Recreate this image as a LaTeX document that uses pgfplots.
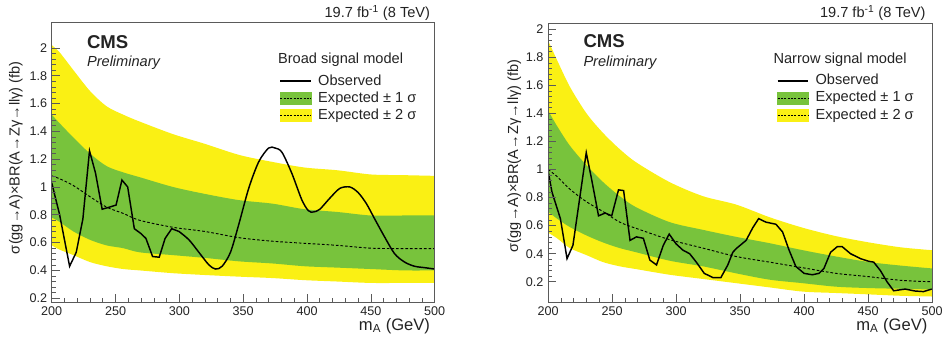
\documentclass[border=0pt]{standalone}
\usepackage{fontspec}
\setmainfont{Liberation Sans}
\usepackage{pgfplots}
\usepackage{pgfplotstable}
\pgfplotsset{compat=1.18}
\usepgfplotslibrary{fillbetween}

\definecolor{cmsyellow}{RGB}{250,240,20}
\definecolor{cmsgreen}{RGB}{120,195,60}
\definecolor{axgray}{RGB}{90,90,90}
\definecolor{txt}{RGB}{35,35,35}

\pgfplotstableread{
m   y2hi  y1hi  exp   y1lo  y2lo
200 2.02  1.52  1.08  0.78  0.58
206 1.97  1.46  1.06  0.75  0.55
217 1.84  1.355 1.01  0.68  0.51
230 1.69  1.24  0.93  0.62  0.46
243 1.58  1.15  0.855 0.58  0.43
256 1.52  1.105 0.81  0.56  0.41
269 1.47  1.07  0.76  0.53  0.40
295 1.38  1.00  0.71  0.51  0.38
320 1.31  0.95  0.68  0.49  0.367
347 1.23  0.905 0.635 0.465 0.355
373 1.18  0.88  0.61  0.45  0.345
398 1.14  0.84  0.595 0.43  0.33
424 1.12  0.82  0.58  0.42  0.32
450 1.09  0.795 0.56  0.41  0.31
476 1.085 0.795 0.557 0.40  0.31
500 1.08  0.795 0.557 0.40  0.31
}\broadband

\pgfplotstableread{
m   y2hi  y1hi  exp   y1lo  y2lo
200 1.92  1.42  1.00  0.70  0.55
207 1.78  1.31  0.95  0.65  0.51
217 1.59  1.17  0.86  0.59  0.44
230 1.40  1.03  0.77  0.53  0.39
243 1.26  0.91  0.70  0.48  0.34
256 1.145 0.81  0.625 0.44  0.31
269 1.05  0.73  0.58  0.41  0.29
295 0.91  0.625 0.50  0.35  0.25
321 0.81  0.57  0.44  0.31  0.22
347 0.75  0.52  0.38  0.26  0.19
373 0.66  0.475 0.34  0.215 0.16
399 0.585 0.425 0.30  0.19  0.13
425 0.525 0.38  0.26  0.165 0.12
451 0.48  0.34  0.236 0.155 0.11
476 0.445 0.315 0.21  0.15  0.10
500 0.425 0.295 0.20  0.145 0.095
}\narrowband

\pgfplotsset{cmsaxis/.style={
  scale only axis,
  xmin=200, xmax=500,
  xtick={200,250,300,350,400,450,500},
  minor x tick num=4,
  ytick={0.2,0.4,0.6,0.8,1,1.2,1.4,1.6,1.8,2},
  minor y tick num=4,
  tick align=inside,
  xtick pos=bottom, ytick pos=left,
  major tick length=6pt, minor tick length=3pt,
  axis line style={axgray, line width=0.6pt},
  every tick/.style={axgray, line width=0.5pt},
  tick label style={font=\fontsize{9.5}{11}\selectfont, text=txt},
  /pgf/number format/assume math mode=true,
  clip mode=individual,
  axis on top,
  legend cell align=left,
  every axis x label/.style={at={(axis description cs:1,-0.085)}, anchor=east, font=\fontsize{12.5}{14}\selectfont, text=txt},
  xlabel={m\textsubscript{A} (GeV)},
  ylabel={σ(gg→A)×BR(A→Zγ→llγ) (fb)},
}}

\pgfplotsset{
  obsleg/.style={legend image code/.code={\draw[black,line width=1.1pt] (0pt,0pt)--(23pt,0pt);}},
  greenleg/.style={legend image code/.code={\fill[cmsgreen] (0pt,-4.5pt) rectangle (23pt,4.5pt); \draw[black,dash pattern=on 1.5pt off 1pt,line width=0.6pt] (0pt,0pt)--(23pt,0pt);}},
  yellowleg/.style={legend image code/.code={\fill[cmsyellow] (0pt,-4.5pt) rectangle (23pt,4.5pt); \draw[black,dash pattern=on 1.5pt off 1pt,line width=0.6pt] (0pt,0pt)--(23pt,0pt);}},
}

\begin{document}
\begin{tikzpicture}
\path (0pt,0pt) rectangle (710.25pt,258pt);

% ---------------- left: broad ----------------
\begin{axis}[cmsaxis, at={(39pt,30pt)}, anchor=south west,
  width=288.75pt, height=210.75pt, ymin=0.17, ymax=2.18,
  every axis y label/.style={at={(axis description cs:-0.0935,0.879)}, rotate=90, anchor=east, font=\fontsize{11}{13}\selectfont, text=txt},
  legend style={at={(rel axis cs:0.584,0.826)}, anchor=north west, draw=none, fill=none,
    font=\fontsize{11}{13}\selectfont, text=txt, row sep=3pt, /tikz/column sep=5pt,
    nodes={inner sep=0pt, text height=8pt, text depth=2pt}},
]
\addplot[name path=a2hi, draw=none, smooth, forget plot] table[x=m,y=y2hi]{\broadband};
\addplot[name path=a2lo, draw=none, smooth, forget plot] table[x=m,y=y2lo]{\broadband};
\addplot[cmsyellow, forget plot] fill between[of=a2hi and a2lo];
\addplot[name path=a1hi, draw=none, smooth, forget plot] table[x=m,y=y1hi]{\broadband};
\addplot[name path=a1lo, draw=none, smooth, forget plot] table[x=m,y=y1lo]{\broadband};
\addplot[cmsgreen, forget plot] fill between[of=a1hi and a1lo];
\addplot[black, smooth, dash pattern=on 2pt off 1.5pt, line width=0.7pt, forget plot] table[x=m,y=exp]{\broadband};
\addplot[black, line width=1.1pt, forget plot] table {
200 1.03
206.2 0.80
214 0.43
219.2 0.53
224.4 0.77
229.6 1.26
234.3 1.10
239.5 0.84
245.2 0.855
250.4 0.87
255 1.05
259.5 1.0
264.7 0.70
269.9 0.665
273.8 0.63
279 0.50
284.2 0.495
288.8 0.63
294 0.70
299.7 0.68
};
\addplot[black, line width=1.1pt, smooth, tension=0.5, forget plot] table {
299.7 0.68
307.5 0.62
315.3 0.53
323.1 0.44
328.3 0.41
333.5 0.43
340 0.53
346.5 0.73
354.3 0.99
362.1 1.18
369.9 1.28
375 1.28
380.3 1.25
388 1.10
395.8 0.91
401 0.83
405 0.82
410 0.84
417.9 0.92
425.7 0.99
433.5 1.0
440 0.96
446.5 0.88
453 0.77
460.8 0.64
468.6 0.52
476.4 0.46
484.2 0.43
492 0.42
500 0.41
};
\addlegendimage{obsleg}\addlegendentry{Observed}
\addlegendimage{greenleg}\addlegendentry{Expected ± 1 σ}
\addlegendimage{yellowleg}\addlegendentry{Expected ± 2 σ}
\node[anchor=base west, font=\fontsize{14}{16}\selectfont\bfseries, text=txt] at (rel axis cs:0.08,0.907) {CMS};
\node[anchor=base west, font=\fontsize{11}{13}\selectfont\itshape, text=txt] at (rel axis cs:0.08,0.843) {Preliminary};
\node[anchor=base west, font=\fontsize{11}{13}\selectfont, text=txt] at (rel axis cs:0.579,0.854) {Broad signal model};
\node[anchor=east, font=\fontsize{11}{13}\selectfont, text=txt] at (axis description cs:1,1.036) {19.7 fb\textsuperscript{-1} (8 TeV)};
\end{axis}

% ---------------- right: narrow ----------------
\begin{axis}[cmsaxis, at={(413.25pt,30pt)}, anchor=south west,
  width=289.5pt, height=210pt, ymin=0.053, ymax=2.038,
  every axis y label/.style={at={(axis description cs:-0.088,0.889)}, rotate=90, anchor=east, font=\fontsize{11}{13}\selectfont, text=txt},
  legend style={at={(rel axis cs:0.585,0.83)}, anchor=north west, draw=none, fill=none,
    font=\fontsize{11}{13}\selectfont, text=txt, row sep=3pt, /tikz/column sep=5pt,
    nodes={inner sep=0pt, text height=8pt, text depth=2pt}},
]
\addplot[name path=b2hi, draw=none, smooth, forget plot] table[x=m,y=y2hi]{\narrowband};
\addplot[name path=b2lo, draw=none, smooth, forget plot] table[x=m,y=y2lo]{\narrowband};
\addplot[cmsyellow, forget plot] fill between[of=b2hi and b2lo];
\addplot[name path=b1hi, draw=none, smooth, forget plot] table[x=m,y=y1hi]{\narrowband};
\addplot[name path=b1lo, draw=none, smooth, forget plot] table[x=m,y=y1lo]{\narrowband};
\addplot[cmsgreen, forget plot] fill between[of=b1hi and b1lo];
\addplot[black, smooth, dash pattern=on 2pt off 1.5pt, line width=0.7pt, forget plot] table[x=m,y=exp]{\narrowband};
\addplot[black, line width=1.1pt, forget plot] table {
200 0.99
203 0.84
209.6 0.65
214.8 0.365
219.4 0.46
229.8 1.12
234 0.93
239.4 0.67
244.6 0.69
249.7 0.67
255 0.855
259 0.85
264 0.495
269 0.52
274.4 0.51
279.5 0.355
284.7 0.32
290 0.46
294.6 0.54
300 0.47
305.4 0.425
310.6 0.40
315.8 0.34
322 0.26
328.8 0.23
335 0.23
340.4 0.32
344.3 0.41
346.9 0.436
354.7 0.495
359.9 0.585
364.5 0.65
370.2 0.625
378 0.61
383.2 0.555
388.3 0.425
393.5 0.31
400 0.26
406.4 0.25
411.7 0.26
415.5 0.295
420.7 0.41
425.9 0.45
429.8 0.45
436.3 0.40
444 0.365
450.5 0.346
454.4 0.34
459.6 0.28
464.8 0.20
470 0.136
479 0.148
486.8 0.134
493.3 0.13
499.7 0.148
};
\addlegendimage{obsleg}\addlegendentry{Observed}
\addlegendimage{greenleg}\addlegendentry{Expected ± 1 σ}
\addlegendimage{yellowleg}\addlegendentry{Expected ± 2 σ}
\node[anchor=base west, font=\fontsize{14}{16}\selectfont\bfseries, text=txt] at (rel axis cs:0.08,0.914) {CMS};
\node[anchor=base west, font=\fontsize{11}{13}\selectfont\itshape, text=txt] at (rel axis cs:0.08,0.846) {Preliminary};
\node[anchor=base west, font=\fontsize{11}{13}\selectfont, text=txt] at (rel axis cs:0.575,0.857) {Narrow signal model};
\node[anchor=east, font=\fontsize{11}{13}\selectfont, text=txt] at (axis description cs:0.995,1.039) {19.7 fb\textsuperscript{-1} (8 TeV)};
\end{axis}
\end{tikzpicture}
\end{document}
